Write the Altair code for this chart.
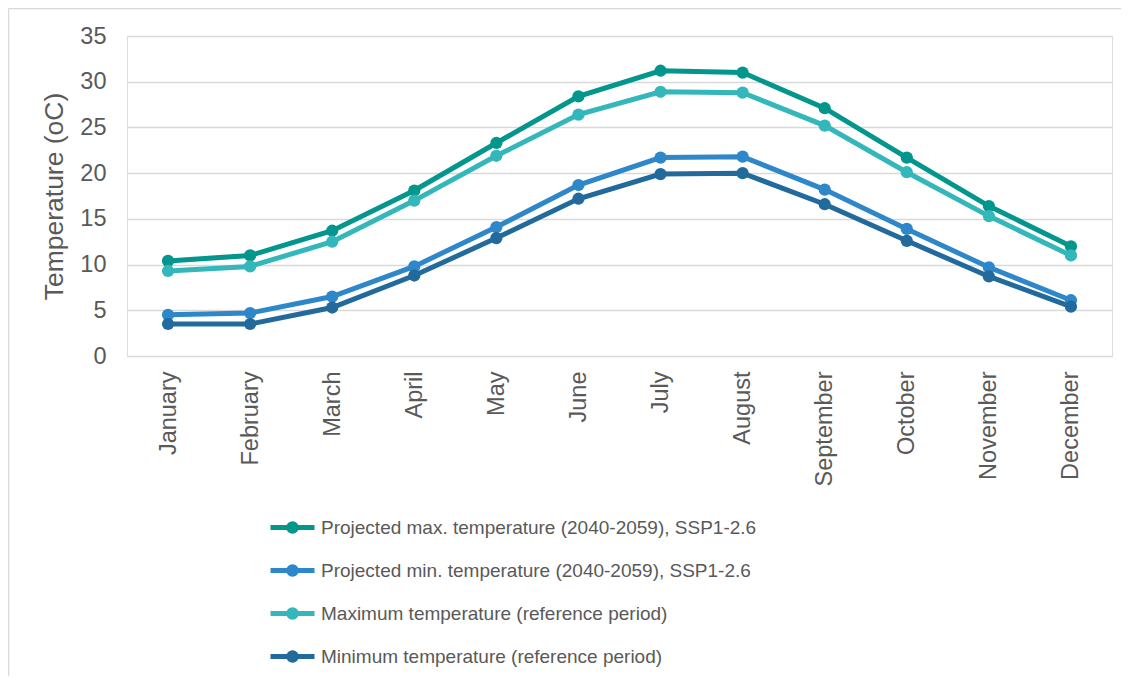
import altair as alt
import pandas as pd

months = ["January", "February", "March", "April", "May", "June", "July",
          "August", "September", "October", "November", "December"]
series_names = [
    "Projected max. temperature (2040-2059), SSP1-2.6",
    "Projected min. temperature (2040-2059), SSP1-2.6",
    "Maximum temperature (reference period)",
    "Minimum temperature (reference period)",
]
proj_max = [10.4, 11.0, 13.7, 18.1, 23.3, 28.4, 31.2, 31.0, 27.1, 21.7, 16.4, 12.0]
proj_min = [4.5, 4.7, 6.5, 9.8, 14.1, 18.7, 21.7, 21.8, 18.2, 13.9, 9.7, 6.1]
ref_max = [9.3, 9.8, 12.5, 17.0, 21.9, 26.4, 28.9, 28.8, 25.2, 20.1, 15.3, 11.0]
ref_min = [3.5, 3.5, 5.3, 8.8, 12.9, 17.2, 19.9, 20.0, 16.6, 12.6, 8.7, 5.4]
colors = ["#02968C", "#2D87C9", "#33B7BB", "#226A9B"]

rows = []
for name, vals in zip(series_names, [proj_max, proj_min, ref_max, ref_min]):
    for m, v in zip(months, vals):
        rows.append({"Month": m, "Temp": v, "Series": name})
df = pd.DataFrame(rows)

legend_symbol = ("M-1,0L1,0M-0.17,0a0.17,0.17 0 1,0 0.34,0"
                 "a0.17,0.17 0 1,0 -0.34,0")

base = alt.Chart(df).encode(
    x=alt.X("Month:N", sort=months, title=None,
            scale=alt.Scale(paddingInner=1, paddingOuter=0.5),
            axis=alt.Axis(labelAngle=-90, labelFontSize=23.5, labelColor="#595959",
                          labelFont="Liberation Sans", labelPadding=15,
                          ticks=False, domain=False, grid=False)),
    y=alt.Y("Temp:Q", title="Temperature (oC)",
            scale=alt.Scale(domain=[0, 35], nice=False),
            axis=alt.Axis(values=[0, 5, 10, 15, 20, 25, 30, 35], labelFontSize=23.5,
                          labelColor="#595959", labelFont="Liberation Sans",
                          labelPadding=21, ticks=False, domain=False,
                          titleFontSize=26.5, titleFont="Liberation Sans",
                          titleColor="#595959", titleFontWeight="normal",
                          titlePadding=11, gridColor="#D9D9D9", gridWidth=1.5)),
    color=alt.Color("Series:N", sort=series_names,
                    scale=alt.Scale(domain=series_names, range=colors),
                    legend=alt.Legend(title=None, orient="none", legendX=141, legendY=467,
                                      direction="vertical", symbolType=legend_symbol,
                                      symbolSize=1936, symbolStrokeWidth=5,
                                      labelFontSize=19, labelFont="Liberation Sans",
                                      labelColor="#595959", labelOffset=4,
                                      rowPadding=4, padding=0, labelLimit=600)),
)

lines = base.mark_line(strokeWidth=5, point=alt.OverlayMarkDef(size=150, filled=True, opacity=1))

frame = alt.Chart(pd.DataFrame({"a": [0]}))
border_top = frame.mark_rule(stroke="#D9D9D9", strokeWidth=1.5).encode(
    x=alt.value(-118.5), x2=alt.value(1300), y=alt.value(-27.5))
border_left = frame.mark_rule(stroke="#D9D9D9", strokeWidth=1.5).encode(
    x=alt.value(-118.5), y=alt.value(-27.5), y2=alt.value(900))

chart = alt.layer(border_top, border_left, lines).properties(
    width=985, height=320,
    padding={"left": 119, "top": 28, "right": 9, "bottom": 320},
    autosize=alt.AutoSizeParams(type="none"),
).configure_view(stroke=None).configure(background="white")

chart.save("out.html", embed_options={"renderer": "svg", "actions": False})
